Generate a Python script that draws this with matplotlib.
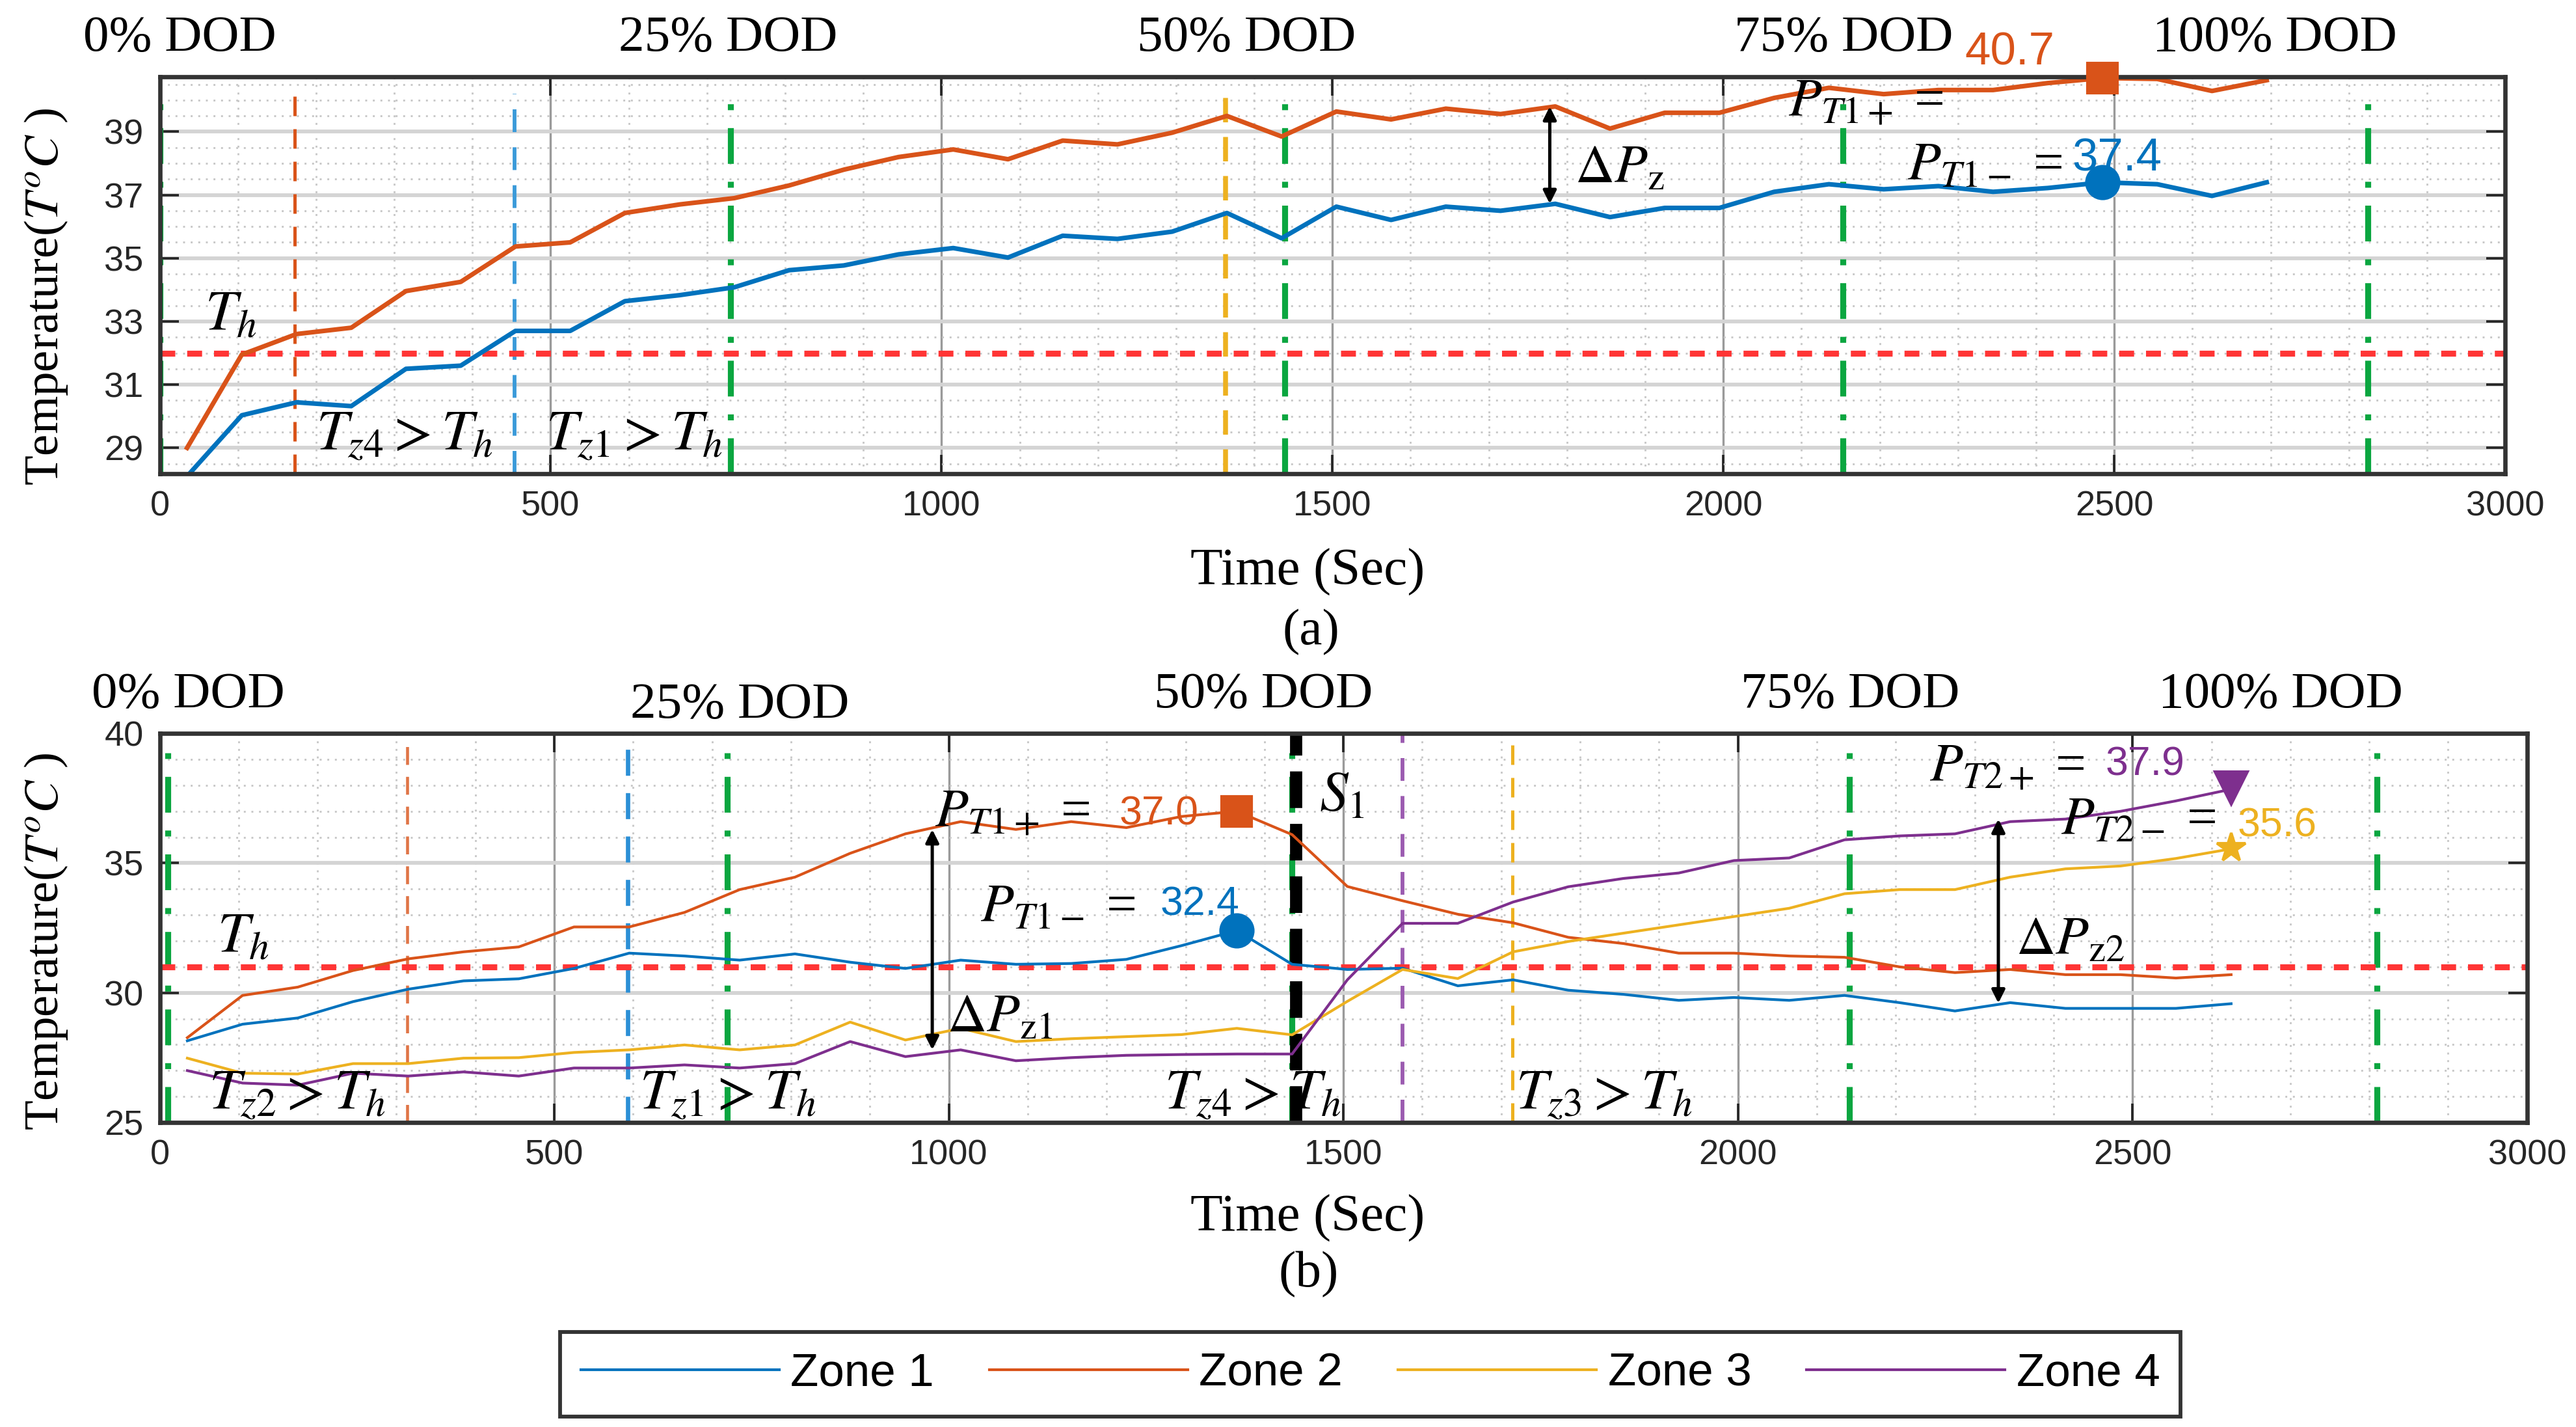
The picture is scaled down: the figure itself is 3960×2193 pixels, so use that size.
import numpy as np
import matplotlib
matplotlib.use('Agg')
import matplotlib.pyplot as plt
from matplotlib.ticker import MultipleLocator

plt.rcParams['font.family'] = ['Liberation Serif', 'DejaVu Serif']
plt.rcParams['mathtext.fontset'] = 'stix'

# ---------------- data (a) ----------------
time_a = [35, 105, 175, 245, 315, 385, 455, 525, 595, 665, 735, 805, 875, 945,
          1015, 1085, 1155, 1225, 1295, 1365, 1435, 1505, 1575, 1645, 1715,
          1785, 1855, 1925, 1995, 2065, 2135, 2205, 2275, 2345, 2415, 2485,
          2555, 2625, 2695]
zone1_a = [28.1, 30.03, 30.44, 30.32, 31.5, 31.6, 32.7, 32.7, 33.64, 33.83,
           34.08, 34.62, 34.77, 35.12, 35.32, 35.02, 35.71, 35.61, 35.84, 36.43,
           35.63, 36.63, 36.21, 36.63, 36.5, 36.72, 36.3, 36.59, 36.59, 37.1,
           37.34, 37.18, 37.28, 37.1, 37.22, 37.4, 37.34, 36.97, 37.4]
zone2_a = [29.0, 31.95, 32.6, 32.8, 33.96, 34.25, 35.37, 35.5, 36.43, 36.7,
           36.9, 37.3, 37.8, 38.2, 38.44, 38.13, 38.72, 38.6, 38.97, 39.5,
           38.85, 39.64, 39.39, 39.73, 39.56, 39.8, 39.1, 39.6, 39.6, 40.07,
           40.39, 40.19, 40.32, 40.32, 40.54, 40.7, 40.67, 40.29, 40.63]
th_a = 32
dod_a = [0, 730, 1439, 2153, 2824]
cross_a = {'z2': 173, 'z1': 454, 'z3': 1363}
peak_a = (2485, 40.7, 37.4)

# ---------------- data (b) ----------------
time_b = [35, 105, 175, 245, 315, 385, 455, 525, 595, 665, 735, 805, 875, 945,
          1015, 1085, 1155, 1225, 1295, 1365, 1435, 1505, 1575, 1645, 1715,
          1785, 1855, 1925, 1995, 2065, 2135, 2205, 2275, 2345, 2415, 2485,
          2555, 2625]
zone1_b = [28.15, 28.79, 29.03, 29.66, 30.14, 30.46, 30.54, 30.94, 31.53, 31.42,
           31.26, 31.5, 31.18, 30.94, 31.26, 31.1, 31.13, 31.29, 31.82, 32.4,
           31.1, 30.9, 30.95, 30.27, 30.5, 30.1, 29.94, 29.71, 29.82, 29.71,
           29.9, 29.62, 29.3, 29.62, 29.4, 29.4, 29.4, 29.58]
zone2_b = [28.27, 29.9, 30.22, 30.86, 31.31, 31.58, 31.77, 32.54, 32.54, 33.1,
           33.98, 34.46, 35.38, 36.13, 36.6, 36.3, 36.6, 36.37, 36.8, 37.0,
           36.1, 34.1, 33.55, 33.03, 32.7, 32.14, 31.9, 31.53, 31.53, 31.42,
           31.37, 31.0, 30.78, 30.9, 30.7, 30.7, 30.57, 30.7]
zone3_b = [27.48, 26.9, 26.87, 27.27, 27.27, 27.48, 27.5, 27.7, 27.8, 27.99,
           27.8, 27.99, 28.87, 28.18, 28.63, 28.12, 28.23, 28.31, 28.39, 28.63,
           28.38, 29.67, 30.9, 30.55, 31.58, 31.98, 32.3, 32.62, 32.94, 33.26,
           33.82, 33.98, 33.98, 34.46, 34.78, 34.89, 35.18, 35.55]
zone4_b = [27.0, 26.52, 26.44, 26.9, 26.79, 26.95, 26.79, 27.1, 27.1, 27.22,
           27.1, 27.27, 28.12, 27.54, 27.8, 27.38, 27.5, 27.59, 27.62, 27.64,
           27.64, 30.5, 32.68, 32.68, 33.5, 34.09, 34.41, 34.62, 35.1, 35.2,
           35.9, 36.05, 36.13, 36.6, 36.7, 37.0, 37.4, 37.85]
th_b = 31
dod_b = [10, 719, 1435, 2141, 2810]
cross_b = {'z2': 314, 'z1': 593, 'z4': 1575, 'z3': 1714}
switch_b = 1440
peak1_b = (1365, 37.0, 32.4)
peak2_b = (2625, 37.9, 35.6)

dod_labels = ['0% DOD', '25% DOD', '50% DOD', '75% DOD', '100% DOD']

c1 = '#0072BD'
c2 = '#D95319'
c3 = '#EDB120'
c4 = '#7E2F8E'
cg = '#0BA640'
cr = '#FF3535'

fig = plt.figure(figsize=(13.2, 7.31), dpi=300)
ax1 = fig.add_axes([0.062, 0.668, 0.9105, 0.278])
ax2 = fig.add_axes([0.062, 0.2134, 0.919, 0.2726])


def style(ax, ymin, ymax, yticks, yminor):
    ax.set_xlim(0, 3000)
    ax.set_ylim(ymin, ymax)
    ax.set_xticks(np.arange(0, 3001, 500))
    ax.set_yticks(yticks)
    ax.xaxis.set_minor_locator(MultipleLocator(100))
    ax.yaxis.set_minor_locator(MultipleLocator(yminor))
    ax.grid(which='major', axis='y', color='#d4d4d4', lw=1.4)
    ax.grid(which='major', axis='x', color='#9a9a9a', lw=0.8)
    ax.grid(which='minor', color='#c8c8c8', lw=0.7, ls=(0, (1, 3)))
    ax.tick_params(which='major', direction='in', length=7, width=0.9,
                   top=True, right=True, labelsize=13, colors='#262626',
                   pad=6)
    ax.tick_params(which='minor', length=0)
    for lab in ax.get_xticklabels() + ax.get_yticklabels():
        lab.set_family(['Liberation Sans', 'DejaVu Sans'])
    for s in ax.spines.values():
        s.set_color('#333333')
        s.set_linewidth(1.6)
    ax.set_axisbelow(True)


# ---------------- (a) ----------------
style(ax1, 28.18, 40.73, [29, 31, 33, 35, 37, 39], 0.5)
for x in dod_a:
    ax1.plot([x, x], [28.18, 40.2], color=cg, lw=2.2, ls=(0, (6, 3, 1, 3)))
ax1.plot([cross_a['z2']] * 2, [28.18, 40.2], color=c2, lw=1.2, ls=(0, (6, 4)))
ax1.plot([cross_a['z1']] * 2, [28.18, 40.2], color='#3A9AD9', lw=1.4, ls=(0, (6, 4)))
ax1.plot([cross_a['z3']] * 2, [28.18, 40.2], color=c3, lw=1.8, ls=(0, (5, 3)))
ax1.axhline(th_a, color=cr, lw=2.2, ls=(0, (2.5, 2)))
ax1.plot(time_a, zone1_a, color=c1, lw=1.7)
ax1.plot(time_a, zone2_a, color=c2, lw=1.7)
ax1.plot(peak_a[0], peak_a[1], 's', color=c2, ms=11, clip_on=False, zorder=5)
ax1.plot(peak_a[0], peak_a[2], 'o', color=c1, ms=12, zorder=5)

for x, lab in zip([26, 727, 1390, 2154, 2705], dod_labels):
    ax1.text(x, 41.95, lab, ha='center', va='center', fontsize=19)
ax1.text(2366, 41.49, '40.7', color=c2, fontsize=17, ha='center', va='center',
         family=['Liberation Sans', 'DejaVu Sans'])
ax1.text(2083, 39.9, '$P_{T1+}$ =', fontsize=20, ha='left', va='center')
ax1.text(2235, 37.9, '$P_{T1-}$ =', fontsize=20, ha='left', va='center')
ax1.text(2446, 38.13, '37.4', color=c1, fontsize=17, ha='left', va='center',
         family=['Liberation Sans', 'DejaVu Sans'])
ax1.annotate('', xy=(1778, 39.8), xytext=(1778, 36.72),
             arrowprops=dict(arrowstyle='<|-|>', color='black', lw=1.2,
                             mutation_scale=10, shrinkA=0, shrinkB=0))
ax1.text(1810, 37.8, r'$\Delta P_{\rm z}$', fontsize=20, ha='left', va='center')
ax1.text(58, 33.18, '$T_h$', fontsize=21, ha='left', va='center')
ax1.text(200, 29.36, '$T_{z4} > T_h$', fontsize=21, ha='left', va='center')
ax1.text(494, 29.36, '$T_{z1} > T_h$', fontsize=21, ha='left', va='center')

# ---------------- (b) ----------------
style(ax2, 25, 40, [25, 30, 35, 40], 1)
for x in dod_b:
    ax2.plot([x, x], [25, 39.25], color=cg, lw=2.2, ls=(0, (6, 3, 1, 3)))
ax2.plot([cross_b['z2']] * 2, [25, 40], color=c2, lw=1.1, ls=(0, (6, 4)), alpha=0.8)
ax2.plot([cross_b['z1']] * 2, [25, 40], color='#2B8FD6', lw=1.6, ls=(0, (6, 4)))
ax2.plot([cross_b['z4']] * 2, [25, 40], color='#9B5BB0', lw=1.4, ls=(0, (6, 4)))
ax2.plot([cross_b['z3']] * 2, [25, 40], color=c3, lw=1.2, ls=(0, (6, 4)))
ax2.plot([switch_b] * 2, [25, 39.95], color='black', lw=4.5, ls=(0, (3, 1.3)))
ax2.axhline(th_b, color=cr, lw=2.2, ls=(0, (2.5, 2)))
l1, = ax2.plot(time_b, zone1_b, color=c1, lw=1.0, label='Zone 1')
l2, = ax2.plot(time_b, zone2_b, color=c2, lw=1.0, label='Zone 2')
l3, = ax2.plot(time_b, zone3_b, color=c3, lw=1.0, label='Zone 3')
l4, = ax2.plot(time_b, zone4_b, color=c4, lw=1.0, label='Zone 4')
ax2.plot(peak1_b[0], peak1_b[1], 's', color=c2, ms=11, zorder=5)
ax2.plot(peak1_b[0], peak1_b[2], 'o', color=c1, ms=12, zorder=5)
ax2.plot(peak2_b[0], peak2_b[1], 'v', color=c4, ms=12, zorder=5)
ax2.plot(peak2_b[0], peak2_b[2], '*', color=c3, ms=11, zorder=5)

for x, y, lab in zip([36, 735, 1399, 2142, 2688],
                     [41.48, 41.08, 41.48, 41.48, 41.48], dod_labels):
    ax2.text(x, y, lab, ha='center', va='center', fontsize=19)
sans = ['Liberation Sans', 'DejaVu Sans']
ax2.text(982, 36.91, '$P_{T1+}$ =', fontsize=20, ha='left', va='center')
ax2.text(1216, 36.9, '37.0', color=c2, fontsize=15, ha='left', va='center', family=sans)
ax2.text(1040, 33.25, '$P_{T1-}$ =', fontsize=20, ha='left', va='center')
ax2.text(1268, 33.4, '32.4', color=c1, fontsize=15, ha='left', va='center', family=sans)
ax2.text(2243, 38.67, '$P_{T2+}$ =', fontsize=20, ha='left', va='center')
ax2.text(2466, 38.8, '37.9', color=c4, fontsize=15, ha='left', va='center', family=sans)
ax2.text(2409, 36.6, '$P_{T2-}$ =', fontsize=20, ha='left', va='center')
ax2.text(2633, 36.44, '35.6', color=c3, fontsize=15, ha='left', va='center', family=sans)
ax2.annotate('', xy=(979, 36.3), xytext=(979, 27.8),
             arrowprops=dict(arrowstyle='<|-|>', color='black', lw=1.2,
                             mutation_scale=10, shrinkA=0, shrinkB=0))
ax2.annotate('', xy=(2330, 36.7), xytext=(2330, 29.6),
             arrowprops=dict(arrowstyle='<|-|>', color='black', lw=1.2,
                             mutation_scale=10, shrinkA=0, shrinkB=0))
ax2.text(998, 29.0, r'$\Delta P_{\rm z1}$', fontsize=20, ha='left', va='center')
ax2.text(2352, 31.97, r'$\Delta P_{\rm z2}$', fontsize=20, ha='left', va='center')
ax2.text(73, 32.12, '$T_h$', fontsize=21, ha='left', va='center')
ax2.text(62, 26.05, '$T_{z2} > T_h$', fontsize=21, ha='left', va='center')
ax2.text(608, 26.05, '$T_{z1} > T_h$', fontsize=21, ha='left', va='center')
ax2.text(1273, 26.05, '$T_{z4} > T_h$', fontsize=21, ha='left', va='center')
ax2.text(1718, 26.05, '$T_{z3} > T_h$', fontsize=21, ha='left', va='center')
ax2.text(1469, 37.57, '$S_1$', fontsize=21, ha='left', va='center')

# axis labels and captions
fig.text(0.5075, 0.599, 'Time (Sec)', ha='center', va='center', fontsize=19.5)
fig.text(0.5075, 0.146, 'Time (Sec)', ha='center', va='center', fontsize=19.5)
fig.text(0.509, 0.557, '(a)', ha='center', va='center', fontsize=19)
fig.text(0.508, 0.107, '(b)', ha='center', va='center', fontsize=19)
fig.text(0.018, 0.792, 'Temperature($T^{o}C$ )', rotation=90, ha='center',
         va='center', fontsize=18)
fig.text(0.018, 0.34, 'Temperature($T^{o}C$ )', rotation=90, ha='center',
         va='center', fontsize=18)

leg = fig.legend(handles=[l1, l2, l3, l4], loc='center', ncol=4,
                 bbox_to_anchor=(0.532, 0.037), frameon=True, fancybox=False,
                 edgecolor='black', prop={'family': 'Liberation Sans', 'size': 17},
                 handlelength=4.3, handletextpad=0.25, columnspacing=1.2,
                 borderpad=0.45)
leg.get_frame().set_linewidth(1.4)

fig.savefig('out.png', dpi=300)
